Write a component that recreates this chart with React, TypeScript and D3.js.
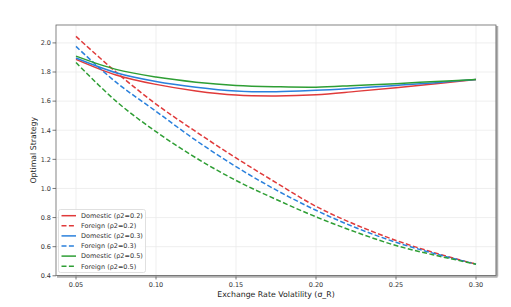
import React from "react";
import * as d3 from "d3";

// volatility grid and read-off values
const sigma = [0.05, 0.075, 0.1, 0.125, 0.15, 0.175, 0.2, 0.225, 0.25, 0.275, 0.3];

const domestic02 = [1.887, 1.78, 1.715, 1.67, 1.642, 1.636, 1.644, 1.667, 1.692, 1.72, 1.749];
const foreign02 = [2.045, 1.8, 1.58, 1.39, 1.21, 1.04, 0.877, 0.75, 0.643, 0.555, 0.48];
const domestic03 = [1.896, 1.795, 1.735, 1.696, 1.67, 1.664, 1.674, 1.69, 1.708, 1.727, 1.749];
const foreign03 = [1.976, 1.73, 1.53, 1.33, 1.15, 0.99, 0.85, 0.73, 0.63, 0.55, 0.48];
const domestic05 = [1.909, 1.818, 1.765, 1.73, 1.708, 1.699, 1.696, 1.708, 1.72, 1.735, 1.749];
const foreign05 = [1.865, 1.6, 1.39, 1.21, 1.055, 0.925, 0.805, 0.7, 0.608, 0.54, 0.48];

const xTicks = [0.05, 0.1, 0.15, 0.2, 0.25, 0.3];
const yTicks = [0.4, 0.6, 0.8, 1.0, 1.2, 1.4, 1.6, 1.8, 2.0];

const series = [
  { label: "Domestic (ρ2=0.2)", values: domestic02, color: "#e03a3a", dashed: false },
  { label: "Foreign (ρ2=0.2)", values: foreign02, color: "#e03a3a", dashed: true },
  { label: "Domestic (ρ2=0.3)", values: domestic03, color: "#2a80dc", dashed: false },
  { label: "Foreign (ρ2=0.3)", values: foreign03, color: "#2a80dc", dashed: true },
  { label: "Domestic (ρ2=0.5)", values: domestic05, color: "#2e9e34", dashed: false },
  { label: "Foreign (ρ2=0.5)", values: foreign05, color: "#2e9e34", dashed: true },
];

const W = 511;
const H = 307;
const font = "DejaVu Sans, sans-serif";

export default function App() {
  const x = d3.scaleLinear().domain([0.0375, 0.3125]).range([56, 496]);
  const y = d3.scaleLinear().domain([0.402, 2.123]).range([275.5, 25]);
  const [x0, x1] = x.range();
  const [y0, y1] = y.range();

  const line = d3
    .line<number>()
    .x((_, i) => x(sigma[i]))
    .y((d) => y(d))
    .curve(d3.curveCatmullRom);

  return (
    <svg
      width={W}
      height={H}
      style={{ position: "absolute", left: 0, top: 0, background: "#fff" }}
      fontFamily={font}
    >
      {/* grid */}
      {xTicks.map((t) => (
        <line key={"gx" + t} x1={x(t)} x2={x(t)} y1={y1} y2={y0} stroke="#ebebeb" strokeWidth={0.8} />
      ))}
      {yTicks.map((t) => (
        <line key={"gy" + t} x1={x0} x2={x1} y1={y(t)} y2={y(t)} stroke="#ebebeb" strokeWidth={0.8} />
      ))}

      {/* lines */}
      {series.map((s) => (
        <path
          key={s.label}
          d={line(s.values) || ""}
          fill="none"
          stroke={s.color}
          strokeWidth={1.5}
          strokeDasharray={s.dashed ? "5,2.4" : undefined}
        />
      ))}

      {/* frame with shadow */}
      <line x1={x0 + 1} x2={x1 + 1.5} y1={y0 + 1} y2={y0 + 1} stroke="#b0b0b0" strokeWidth={2.5} />
      <line x1={x1 + 1} x2={x1 + 1} y1={y1 + 1} y2={y0 + 1} stroke="#b0b0b0" strokeWidth={2.5} />
      <rect x={x0} y={y1} width={x1 - x0} height={y0 - y1} fill="none" stroke="#666" strokeWidth={0.8} />

      {/* x ticks */}
      {xTicks.map((t) => (
        <g key={"xt" + t}>
          <line x1={x(t)} x2={x(t)} y1={y0 + 1} y2={y0 + 4} stroke="#555" strokeWidth={0.8} />
          <text x={x(t)} y={y0 + 11} fontSize={6.5} textAnchor="middle" fill="#333">
            {t.toFixed(2)}
          </text>
        </g>
      ))}
      {/* y ticks */}
      {yTicks.map((t) => (
        <g key={"yt" + t}>
          <line x1={x0 - 3.5} x2={x0} y1={y(t)} y2={y(t)} stroke="#555" strokeWidth={0.8} />
          <text x={x0 - 5} y={y(t) + 2.3} fontSize={6.5} textAnchor="end" fill="#333">
            {t.toFixed(1)}
          </text>
        </g>
      ))}

      {/* axis labels */}
      <text x={(x0 + x1) / 2} y={297} fontSize={7.8} textAnchor="middle" fill="#222">
        Exchange Rate Volatility (σ_R)
      </text>
      <text
        transform={`translate(36,${(y0 + y1) / 2}) rotate(-90)`}
        fontSize={7.8}
        textAnchor="middle"
        fill="#222"
      >
        Optimal Strategy
      </text>

      {/* legend */}
      <rect x={58.5} y={209.5} width={87} height={63} rx={2} fill="#fff" fillOpacity={0.85} stroke="#d8d8d8" strokeWidth={0.8} />
      {series.map((s, i) => {
        const ly = 215.7 + i * 10.1;
        return (
          <g key={"lg" + s.label}>
            <line
              x1={61.5}
              x2={76}
              y1={ly}
              y2={ly}
              stroke={s.color}
              strokeWidth={1.5}
              strokeDasharray={s.dashed ? "5,2.4" : undefined}
            />
            <text x={81} y={ly + 2.3} fontSize={6.5} fill="#333">
              {s.label}
            </text>
          </g>
        );
      })}
    </svg>
  );
}
